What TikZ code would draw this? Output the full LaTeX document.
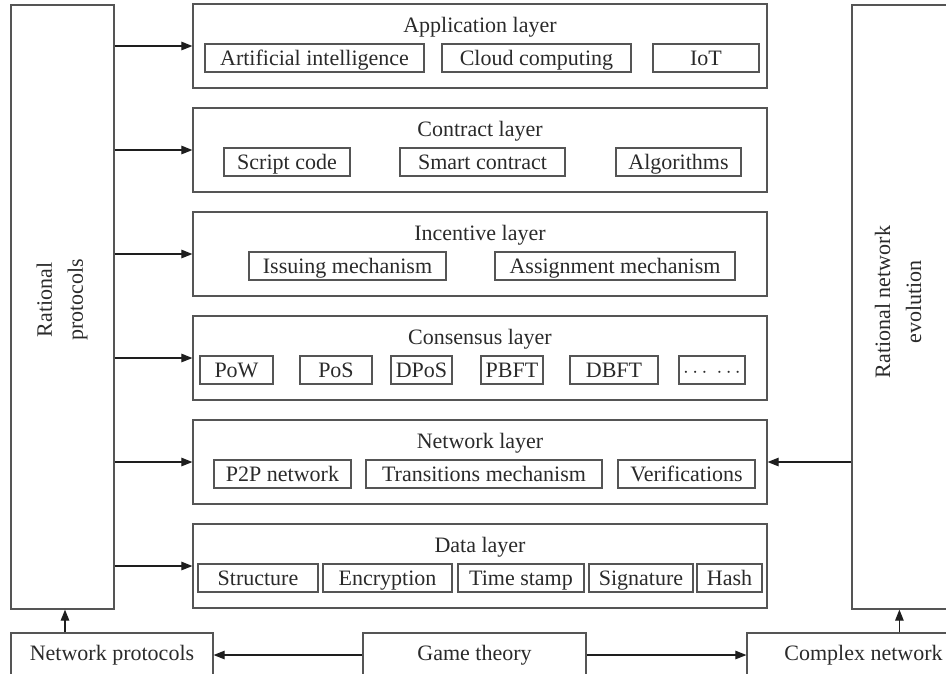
\documentclass[tikz,border=0pt]{standalone}
\usepackage{fontspec}
\setmainfont{Liberation Serif}
\usetikzlibrary{arrows.meta}
\definecolor{lc}{HTML}{555555}
\definecolor{ac}{HTML}{1E1E1E}
\definecolor{tc}{HTML}{2A2A2A}
\newcommand\lfs{\fontsize{22}{31}\selectfont}
\begin{document}
\begin{tikzpicture}[x=1pt,y=-1pt,
  box/.style={draw=lc, line width=1.2pt, inner sep=0pt},
  layer/.style={box, minimum width=574pt, minimum height=84pt},
  item/.style={box, minimum height=28pt, font=\lfs, text=tc, text height=17pt, text depth=2pt},
  ttl/.style={font=\lfs, text=tc, inner sep=0pt},
  bottombox/.style={box, minimum height=44pt, font=\lfs, text=tc, text height=15pt, text depth=4.5pt},
  arr/.style={-{Triangle[length=11pt,width=8.5pt]}, line width=1.1pt, draw=ac}]
\clip (0,0) rectangle (946,673);
% side boxes
\node[box, minimum width=103pt, minimum height=604pt] (lb) at (62.5,307) {};
\node[ttl, rotate=90, align=center] (lbt) at (62,300) {Rational\\protocols};
\node[box, minimum width=128pt, minimum height=604pt] (rb) at (916,307) {};
\node[ttl, rotate=90, align=center] (rbt) at (898,302) {Rational network\\evolution};
% layers
\node[layer] (app) at (480,46) {};
\node[ttl] (appt) at (480,27) {Application layer};
\node[item, minimum width=219pt] (ai) at (314.5,58) {Artificial intelligence};
\node[item, minimum width=189pt] (cc) at (536.5,58) {Cloud computing};
\node[item, minimum width=106pt] (iot) at (706,58) {IoT};
\node[layer] (con) at (480,150) {};
\node[ttl] (cont) at (480,131) {Contract layer};
\node[item, minimum width=126pt] (sc) at (287,162) {Script code};
\node[item, minimum width=165pt] (smc) at (482.5,162) {Smart contract};
\node[item, minimum width=125pt] (alg) at (678.5,162) {Algorithms};
\node[layer] (inc) at (480,254) {};
\node[ttl] (inct) at (480,235) {Incentive layer};
\node[item, minimum width=197pt] (ism) at (347.5,266) {Issuing mechanism};
\node[item, minimum width=240pt] (asm) at (615,266) {Assignment mechanism};
\node[layer] (cns) at (480,358) {};
\node[ttl] (cnst) at (480,339) {Consensus layer};
\node[item, minimum width=73pt] (pow) at (236.5,370) {PoW};
\node[item, minimum width=72pt] (pos) at (336,370) {PoS};
\node[item, minimum width=61pt] (dpos) at (421.5,370) {DPoS};
\node[item, minimum width=62pt] (pbft) at (512,370) {PBFT};
\node[item, minimum width=88pt] (dbft) at (614,370) {DBFT};
\node[item, minimum width=66pt] (dots) at (712,370) {$\cdots\;\cdots$};
\node[layer] (net) at (480,462) {};
\node[ttl] (nett) at (480,443) {Network layer};
\node[item, minimum width=137pt] (p2p) at (282.5,474) {P2P network};
\node[item, minimum width=236pt] (trm) at (484,474) {Transitions mechanism};
\node[item, minimum width=137pt] (ver) at (686.5,474) {Verifications};
\node[layer] (dat) at (480,566) {};
\node[ttl] (datt) at (480,547) {Data layer};
\node[item, minimum width=120pt] (str) at (258,578) {Structure};
\node[item, minimum width=129pt] (enc) at (387.5,578) {Encryption};
\node[item, minimum width=126pt] (tms) at (521,578) {Time stamp};
\node[item, minimum width=104pt] (sig) at (641,578) {Signature};
\node[item, minimum width=65pt] (hsh) at (729.5,578) {Hash};
% bottom boxes
\node[bottombox, minimum width=202pt] (np) at (112,655) {Network protocols};
\node[bottombox, minimum width=223pt] (gt) at (474.5,655) {Game theory};
\node[bottombox, minimum width=233pt] (cn) at (863.5,655) {Complex network};
% arrows
\foreach \L in {app,con,inc,cns,net,dat}
  \draw[arr] (lb.east |- \L.west) -- (\L.west);
\draw[arr] (rb.west |- net.east) -- (net.east);
\draw[arr] (gt.west) -- (np.east);
\draw[arr] (gt.east) -- (cn.west);
\draw[arr] ([xshift=2.5pt]lb.south |- np.north) -- ([xshift=2.5pt]lb.south);
\draw[arr] ([xshift=48pt]rb.south west |- cn.north) -- ([xshift=48pt]rb.south west);
\end{tikzpicture}
\end{document}
